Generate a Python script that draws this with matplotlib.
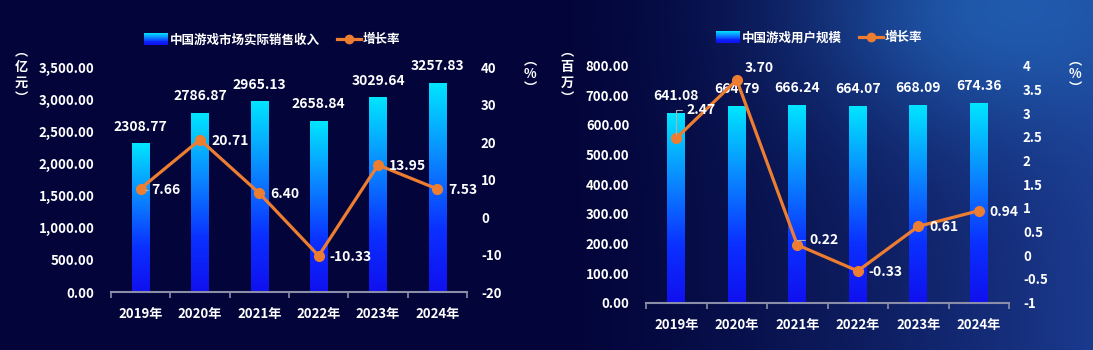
import numpy as np
import matplotlib
matplotlib.use('Agg')
import matplotlib.pyplot as plt
from matplotlib.colors import LinearSegmentedColormap, to_rgb
from matplotlib.legend_handler import HandlerBase
from matplotlib.patches import Rectangle
from matplotlib.lines import Line2D
from matplotlib.ticker import FuncFormatter, MultipleLocator

years = ['2019年', '2020年', '2021年', '2022年', '2023年', '2024年']
revenue = [2308.77, 2786.87, 2965.13, 2658.84, 3029.64, 3257.83]
revenue_growth = [7.66, 20.71, 6.40, -10.33, 13.95, 7.53]
users = [641.08, 664.79, 666.24, 664.07, 668.09, 674.36]
users_growth = [2.47, 3.70, 0.22, -0.33, 0.61, 0.94]
revenue_label = '中国游戏市场实际销售收入'
users_label = '中国游戏用户规模'
growth_label = '增长率'

plt.rcParams['font.family'] = ['Noto Sans CJK SC', 'DejaVu Sans']
plt.rcParams['font.weight'] = 'bold'

W, H = 1093, 350
fig = plt.figure(figsize=(W / 100, H / 100), dpi=100)
fig.patch.set_facecolor('#03053a')

# background gradient
bg = fig.add_axes([0, 0, 1, 1], zorder=-5)
yy, xx = np.mgrid[0:H, 0:W]
base = np.array(to_rgb('#03053a'))
mid = np.array(to_rgb('#1b3a8e'))
glow = np.array(to_rgb('#2262b6'))
t = np.clip((xx - 560) / 533, 0, 1) ** 1.4
img = base * (1 - t[..., None]) + mid * t[..., None]
g = np.exp(-(((xx - 1010) / 190) ** 2 + ((yy - 10) / 120) ** 2)) * 0.85
img = img * (1 - g[..., None]) + glow * g[..., None]
bg.imshow(img, aspect='auto')
bg.set_axis_off()

ORANGE = '#ed7d31'
WHITE = 'white'
GREY = '#8a8ea8'
bar_cmap = LinearSegmentedColormap.from_list(
    'bar', [(0, '#1010ee'), (0.3, '#0a30ff'), (0.65, '#0a8aff'), (1, '#00e5ff')])
grad = np.linspace(1, 0, 256)[:, None]


class GradHandler(HandlerBase):
    def create_artists(self, legend, orig_handle, xdescent, ydescent,
                       width, height, fontsize, trans):
        arts = []
        n = 12
        h = height * 1.15
        y0 = -ydescent - (h - height) / 2
        for i in range(n):
            c = bar_cmap(1 - (i + 0.5) / n)
            r = Rectangle((-xdescent, y0 + h - (i + 1) * h / n), width, h / n + 0.3,
                          facecolor=c, edgecolor='none', transform=trans)
            arts.append(r)
        return arts


def panel(rect, vals, growth, ylim, ystep, ylim2, ystep2, fmt2,
          bar_lab, leg_x, leg_y, ylab, ylab_x, pct_x, offsets, leaders):
    ax = fig.add_axes(rect)
    ax.set_facecolor('none')
    x = np.arange(len(years))
    bars = ax.bar(x, vals, width=0.29, color='none', edgecolor='none')
    for b in bars:
        im = ax.imshow(grad, extent=[b.get_x(), b.get_x() + b.get_width(), 0, b.get_height()],
                       cmap=bar_cmap, vmin=0, vmax=1, aspect='auto', origin='upper',
                       interpolation='bilinear', zorder=2)
    ax.set_xlim(-0.5, len(years) - 0.5)
    ax.set_ylim(*ylim)
    ax.yaxis.set_major_locator(MultipleLocator(ystep))
    ax.yaxis.set_major_formatter(FuncFormatter(lambda v, p: f'{v:,.2f}'))
    ax.set_xticks(np.arange(-0.5, len(years), 1))
    ax.set_xticklabels([])
    ax.set_xticks(x, minor=True)
    ax.set_xticklabels(years, minor=True)
    ax.tick_params(axis='x', which='major', direction='out', length=4, width=1.2, color=GREY)
    ax.tick_params(axis='x', which='minor', length=0, pad=11, labelsize=9.5, labelcolor=WHITE)
    ax.tick_params(axis='y', length=0, pad=12, labelsize=9.5, labelcolor=WHITE)
    for s in ['top', 'right', 'left']:
        ax.spines[s].set_visible(False)
    ax.spines['bottom'].set_color(GREY)
    ax.spines['bottom'].set_linewidth(1.5)
    for lab in ax.get_xticklabels(minor=True) + ax.get_yticklabels():
        lab.set_fontweight('bold')
    for xi, v in zip(x, vals):
        ax.annotate(f'{v:.2f}', xy=(xi, v), xytext=(0, 17), textcoords='offset pixels',
                    ha='center', va='center', color=WHITE, fontsize=10, fontweight='bold',
                    zorder=5)

    ax2 = ax.twinx()
    ax2.set_ylim(*ylim2)
    ax2.yaxis.set_major_locator(MultipleLocator(ystep2))
    ax2.yaxis.set_major_formatter(FuncFormatter(fmt2))
    ax2.tick_params(axis='y', length=0, pad=10, labelsize=9.5, labelcolor=WHITE)
    for lab in ax2.get_yticklabels():
        lab.set_fontweight('bold')
    for s in ax2.spines.values():
        s.set_visible(False)
    ax2.plot(x, growth, color=ORANGE, lw=2.3, marker='o', ms=7, zorder=4)
    for xi, v, off, ld in zip(x, growth, offsets, leaders):
        kw = {}
        if ld:
            kw['arrowprops'] = dict(arrowstyle='-', color='#b0b0b0', lw=0.8,
                                    shrinkA=1, shrinkB=3,
                                    connectionstyle='angle,angleA=0,angleB=90,rad=0')
        ax2.annotate(f'{v:.2f}', xy=(xi, v), xytext=off, textcoords='offset pixels',
                     ha='left', va='center', color=WHITE, fontsize=10, fontweight='bold',
                     zorder=6, **kw)

    handles = [Rectangle((0, 0), 1, 1), Line2D([], [], color=ORANGE, lw=2.3, marker='o', ms=6)]
    fig.legend(handles, [bar_lab, growth_label], loc='center',
               bbox_to_anchor=(leg_x / W, 1 - leg_y / H), ncol=2, frameon=False,
               handlelength=1.95, handleheight=0.8, handletextpad=0.1, columnspacing=1.4,
               handler_map={Rectangle: GradHandler()},
               prop={'size': 9, 'weight': 'bold'}, labelcolor=WHITE)
    fig.text(ylab_x / W, 1 - 75 / H, ylab, ha='center', va='center', color=WHITE,
             fontsize=9.5, fontweight='bold', linespacing=1.15)
    fig.text(pct_x / W, 1 - 74 / H, '︵\n%\n︶', ha='center', va='center', color=WHITE,
             fontsize=9.5, fontweight='bold', linespacing=1.0)
    return ax, ax2


# left panel
L0, L1, Lb, Lt = 111, 467, 292, 67.5
panel([L0 / W, 1 - Lb / H, (L1 - L0) / W, (Lb - Lt) / H],
      revenue, revenue_growth, (0, 3500), 500, (-20, 40), 10,
      lambda v, p: f'{v:.0f}', revenue_label, 272, 40, '︵\n亿\n元\n︶', 21, 530,
      [(11, -1)] * 6, [True, False, False, False, False, False])

# right panel
R0, R1, Rb, Rt = 646, 1009, 302.7, 65.7
panel([R0 / W, 1 - Rb / H, (R1 - R0) / W, (Rb - Rt) / H],
      users, users_growth, (0, 800), 100, (-1, 4), 0.5,
      lambda v, p: f'{v:g}', users_label, 819, 38, '︵\n百\n万\n︶', 567, 1075,
      [(10, 28), (8, 12), (12, 5), (11, -1), (11, -1), (11, -1)],
      [True, False, True, False, False, False])

fig.savefig('out.png', dpi=100, facecolor=fig.get_facecolor())
